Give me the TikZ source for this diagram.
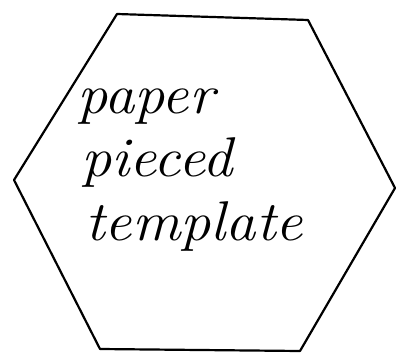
\documentclass[tikz,border=0pt]{standalone}
\usetikzlibrary{positioning}
\begin{document}
\begin{tikzpicture}[x=1pt,y=-1pt,line width=2.2pt,line join=round,
	hand/.style={inner sep=0pt,anchor=base west,xscale=1.08,font=\fontsize{56}{64}\selectfont\itshape}]
	\useasboundingbox (0,0) rectangle (398,358);
	\coordinate (tl) at (117,14);
	\coordinate (tr) at (308,20);
	\coordinate (r) at (395,188);
	\coordinate (br) at (300,351);
	\coordinate (bl) at (100,349);
	\coordinate (l) at (14,180);
	\draw (tl)--(tr)--(r)--(br)--(bl)--(l)--cycle;
	\node[hand] (paper) at (76,114) {paper};
	\node[hand] (pieced) at (80,176) {pieced};
	\node[hand] (template) at (84,240) {template};
\end{tikzpicture}
\end{document}
